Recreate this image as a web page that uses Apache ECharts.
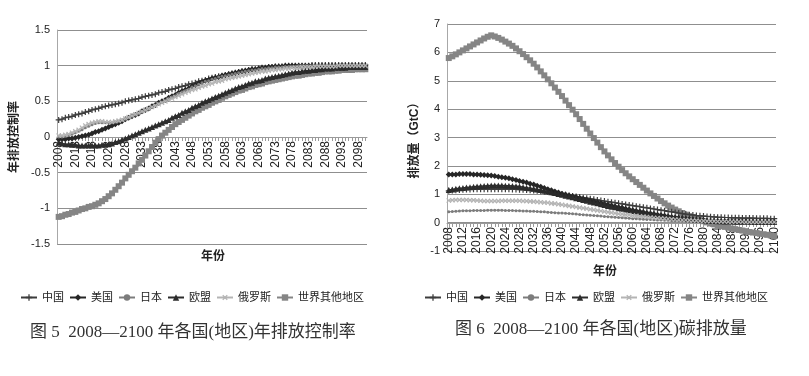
<!DOCTYPE html>
<html>
<head>
<meta charset="utf-8">
<script src="https://cdn.jsdelivr.net/npm/echarts@6/dist/echarts.min.js"></script>
<style>
  html, body { margin: 0; padding: 0; background: #fff; }
  #main { width: 809px; height: 376px; }
</style>
</head>
<body>
<div id="main"></div>
<script>
// 年份 2008-2100
const years = Array.from({ length: 93 }, (_, i) => String(2008 + i));
const names = ['中国', '美国', '日本', '欧盟', '俄罗斯', '世界其他地区'];

// 图5 年排放控制率
const rateChina = [
  0.24,0.25,0.27,0.28,0.29,0.31,0.32,0.33,0.35,0.36,
  0.38,0.39,0.40,0.42,0.43,0.44,0.45,0.46,0.47,0.48,
  0.50,0.51,0.52,0.53,0.54,0.56,0.57,0.58,0.59,0.60,
  0.62,0.63,0.64,0.66,0.67,0.68,0.70,0.71,0.72,0.74,
  0.75,0.76,0.78,0.79,0.80,0.82,0.83,0.84,0.85,0.86,
  0.87,0.88,0.89,0.90,0.91,0.92,0.93,0.94,0.95,0.95,
  0.96,0.97,0.97,0.98,0.98,0.99,0.99,0.99,1.00,1.00,
  1.00,1.00,1.00,1.00,1.00,1.00,1.01,1.01,1.01,1.01,
  1.01,1.01,1.01,1.01,1.01,1.01,1.01,1.01,1.01,1.01,
  1.01,1.01,1.01
];
const rateUSA = [
  -0.03,-0.03,-0.03,-0.02,-0.02,-0.01,0.00,0.01,0.02,0.03,
  0.05,0.07,0.08,0.10,0.12,0.14,0.16,0.18,0.20,0.22,
  0.25,0.27,0.29,0.31,0.33,0.36,0.38,0.40,0.43,0.45,
  0.48,0.50,0.52,0.55,0.57,0.59,0.62,0.64,0.66,0.68,
  0.71,0.73,0.75,0.77,0.79,0.80,0.82,0.83,0.84,0.86,
  0.87,0.88,0.89,0.90,0.91,0.92,0.93,0.94,0.95,0.95,
  0.96,0.97,0.97,0.98,0.98,0.99,0.99,0.99,1.00,1.00,
  1.00,1.00,1.00,1.00,1.00,1.00,1.00,1.00,1.00,1.00,
  1.00,1.00,1.00,1.00,1.00,1.00,1.00,1.00,1.00,1.00,
  1.00,1.00,1.00
];
const rateJapan = [
  0.00,0.00,0.01,0.02,0.04,0.06,0.08,0.10,0.13,0.15,
  0.17,0.19,0.20,0.20,0.20,0.20,0.20,0.21,0.22,0.23,
  0.25,0.27,0.29,0.31,0.33,0.35,0.37,0.39,0.42,0.44,
  0.47,0.49,0.51,0.54,0.56,0.58,0.61,0.63,0.65,0.67,
  0.70,0.72,0.74,0.76,0.78,0.79,0.81,0.82,0.84,0.85,
  0.86,0.87,0.88,0.89,0.90,0.91,0.92,0.93,0.94,0.94,
  0.95,0.96,0.96,0.97,0.97,0.98,0.98,0.98,0.99,0.99,
  0.99,0.99,1.00,1.00,1.00,1.00,1.00,1.00,1.00,1.00,
  1.00,1.00,1.00,1.00,1.00,1.00,1.00,1.00,1.00,1.00,
  1.00,1.00,1.00
];
const rateEU = [
  -0.08,-0.09,-0.10,-0.10,-0.11,-0.11,-0.12,-0.12,-0.12,-0.12,
  -0.12,-0.12,-0.12,-0.11,-0.11,-0.10,-0.09,-0.07,-0.06,-0.04,
  -0.02,0.00,0.02,0.04,0.06,0.08,0.10,0.12,0.14,0.16,
  0.18,0.20,0.22,0.24,0.27,0.29,0.31,0.34,0.36,0.38,
  0.41,0.43,0.45,0.48,0.50,0.52,0.54,0.56,0.58,0.60,
  0.62,0.64,0.66,0.68,0.70,0.71,0.73,0.75,0.76,0.78,
  0.79,0.80,0.82,0.83,0.84,0.85,0.86,0.87,0.88,0.89,
  0.90,0.91,0.91,0.92,0.93,0.93,0.94,0.94,0.95,0.95,
  0.96,0.96,0.96,0.97,0.97,0.97,0.97,0.98,0.98,0.98,
  0.98,0.98,0.98
];
const rateRussia = [
  0.02,0.02,0.03,0.04,0.06,0.08,0.10,0.13,0.16,0.18,
  0.20,0.21,0.22,0.22,0.21,0.21,0.21,0.22,0.23,0.24,
  0.26,0.28,0.30,0.32,0.34,0.36,0.38,0.40,0.42,0.44,
  0.46,0.48,0.50,0.52,0.54,0.56,0.58,0.60,0.62,0.64,
  0.66,0.67,0.69,0.71,0.72,0.74,0.75,0.77,0.78,0.79,
  0.81,0.82,0.83,0.84,0.85,0.86,0.87,0.88,0.89,0.90,
  0.91,0.92,0.92,0.93,0.94,0.94,0.95,0.95,0.96,0.96,
  0.97,0.97,0.97,0.98,0.98,0.98,0.98,0.99,0.99,0.99,
  0.99,0.99,0.99,0.99,1.00,1.00,1.00,1.00,1.00,1.00,
  1.00,1.00,1.00
];
const rateWorld = [
  -1.12,-1.11,-1.09,-1.08,-1.06,-1.05,-1.03,-1.01,-1.00,-0.98,
  -0.97,-0.95,-0.93,-0.90,-0.87,-0.83,-0.79,-0.74,-0.69,-0.64,
  -0.58,-0.53,-0.48,-0.43,-0.37,-0.32,-0.26,-0.20,-0.14,-0.08,
  -0.03,0.02,0.06,0.10,0.14,0.18,0.21,0.24,0.27,0.30,
  0.33,0.36,0.38,0.41,0.43,0.45,0.48,0.50,0.52,0.55,
  0.57,0.59,0.61,0.63,0.65,0.66,0.68,0.70,0.71,0.73,
  0.74,0.75,0.77,0.78,0.79,0.80,0.81,0.82,0.83,0.84,
  0.85,0.86,0.86,0.87,0.88,0.89,0.89,0.90,0.90,0.91,
  0.92,0.92,0.92,0.93,0.93,0.94,0.94,0.94,0.94,0.95,
  0.95,0.95,0.95
];

// 图6 碳排放量 (GtC)
const emitChina = [
  1.12,1.13,1.14,1.15,1.16,1.17,1.17,1.18,1.18,1.18,
  1.18,1.18,1.18,1.18,1.18,1.18,1.18,1.18,1.17,1.17,
  1.16,1.16,1.15,1.14,1.13,1.12,1.11,1.09,1.08,1.06,
  1.04,1.02,1.00,0.98,0.96,0.94,0.92,0.90,0.88,0.86,
  0.84,0.82,0.80,0.78,0.76,0.74,0.72,0.70,0.68,0.66,
  0.64,0.62,0.60,0.58,0.56,0.54,0.52,0.50,0.48,0.46,
  0.44,0.42,0.40,0.38,0.36,0.34,0.32,0.30,0.28,0.27,
  0.25,0.24,0.23,0.22,0.21,0.20,0.19,0.19,0.18,0.18,
  0.17,0.17,0.17,0.16,0.16,0.16,0.16,0.15,0.15,0.15,
  0.15,0.14,0.14
];
const emitUSA = [
  1.70,1.70,1.70,1.71,1.71,1.71,1.71,1.70,1.70,1.69,
  1.68,1.67,1.66,1.64,1.62,1.60,1.58,1.56,1.53,1.50,
  1.47,1.44,1.41,1.37,1.34,1.30,1.26,1.22,1.18,1.14,
  1.10,1.06,1.02,0.99,0.96,0.93,0.90,0.87,0.84,0.81,
  0.78,0.75,0.72,0.69,0.66,0.63,0.60,0.57,0.54,0.52,
  0.49,0.46,0.44,0.41,0.39,0.37,0.34,0.32,0.30,0.28,
  0.26,0.24,0.22,0.20,0.18,0.17,0.15,0.14,0.12,0.11,
  0.10,0.09,0.08,0.07,0.07,0.06,0.06,0.05,0.05,0.05,
  0.04,0.04,0.04,0.04,0.04,0.03,0.03,0.03,0.03,0.03,
  0.03,0.03,0.03
];
const emitJapan = [
  0.38,0.39,0.40,0.41,0.42,0.42,0.42,0.43,0.43,0.43,
  0.43,0.44,0.44,0.44,0.44,0.44,0.43,0.43,0.43,0.42,
  0.42,0.41,0.41,0.40,0.40,0.39,0.38,0.38,0.37,0.36,
  0.35,0.34,0.34,0.33,0.32,0.31,0.30,0.29,0.28,0.27,
  0.26,0.25,0.24,0.23,0.22,0.21,0.20,0.19,0.18,0.17,
  0.16,0.15,0.14,0.14,0.13,0.12,0.11,0.11,0.10,0.09,
  0.09,0.08,0.08,0.07,0.07,0.06,0.06,0.05,0.05,0.05,
  0.04,0.04,0.04,0.03,0.03,0.03,0.03,0.02,0.02,0.02,
  0.02,0.02,0.02,0.01,0.01,0.01,0.01,0.01,0.01,0.01,
  0.01,0.01,0.01
];
const emitEU = [
  1.15,1.17,1.19,1.21,1.22,1.24,1.25,1.26,1.27,1.28,
  1.29,1.30,1.31,1.31,1.31,1.31,1.30,1.30,1.29,1.28,
  1.27,1.25,1.23,1.21,1.19,1.17,1.15,1.12,1.10,1.07,
  1.04,1.01,0.98,0.95,0.92,0.89,0.86,0.83,0.80,0.77,
  0.74,0.71,0.68,0.65,0.62,0.59,0.56,0.54,0.51,0.49,
  0.46,0.44,0.41,0.39,0.37,0.35,0.33,0.31,0.29,0.27,
  0.25,0.23,0.21,0.19,0.18,0.16,0.15,0.13,0.12,0.11,
  0.10,0.09,0.08,0.07,0.06,0.06,0.05,0.05,0.04,0.04,
  0.04,0.03,0.03,0.03,0.03,0.03,0.02,0.02,0.02,0.02,
  0.02,0.02,0.02
];
const emitRussia = [
  0.78,0.79,0.80,0.80,0.80,0.80,0.79,0.79,0.78,0.77,
  0.76,0.76,0.76,0.76,0.76,0.77,0.77,0.77,0.77,0.77,
  0.77,0.76,0.76,0.75,0.74,0.73,0.72,0.71,0.70,0.68,
  0.67,0.65,0.63,0.61,0.59,0.57,0.55,0.53,0.51,0.49,
  0.47,0.45,0.43,0.41,0.39,0.37,0.35,0.33,0.31,0.30,
  0.28,0.27,0.25,0.24,0.22,0.21,0.20,0.18,0.17,0.16,
  0.15,0.14,0.13,0.12,0.11,0.10,0.09,0.09,0.08,0.07,
  0.07,0.06,0.06,0.05,0.05,0.05,0.04,0.04,0.04,0.03,
  0.03,0.03,0.03,0.03,0.02,0.02,0.02,0.02,0.02,0.02,
  0.02,0.02,0.02
];
const emitWorld = [
  5.80,5.86,5.93,6.00,6.07,6.14,6.21,6.28,6.35,6.42,
  6.49,6.55,6.60,6.56,6.51,6.45,6.38,6.31,6.23,6.14,
  6.04,5.94,5.83,5.72,5.60,5.47,5.33,5.19,5.05,4.91,
  4.76,4.61,4.46,4.30,4.14,3.98,3.82,3.65,3.48,3.31,
  3.14,2.98,2.82,2.66,2.51,2.37,2.23,2.10,1.97,1.85,
  1.74,1.63,1.53,1.43,1.33,1.23,1.13,1.03,0.94,0.85,
  0.76,0.68,0.60,0.53,0.46,0.40,0.34,0.28,0.23,0.18,
  0.13,0.09,0.05,0.01,-0.03,-0.06,-0.09,-0.12,-0.15,-0.18,
  -0.21,-0.23,-0.26,-0.28,-0.30,-0.33,-0.35,-0.37,-0.39,-0.41,
  -0.43,-0.45,-0.47
];

const rateData = [rateChina, rateUSA, rateJapan, rateEU, rateRussia, rateWorld];
const emitData = [emitChina, emitUSA, emitJapan, emitEU, emitRussia, emitWorld];

const plus = 'path://M4,0h2v4h4v2h-4v4h-2v-4h-4v-2h4z';
// 每个国家的线型（按 Excel 原图）
const styles = [
  { color: '#3c3c3c', symbol: plus, size: 6, width: 1, rotate: 0 },
  { color: '#262626', symbol: 'diamond', size: 6, width: 1.5, rotate: 0 },
  { color: '#7c7c7c', symbol: 'circle', size: 3, width: 1, rotate: 0 },
  { color: '#2c2c2c', symbol: 'triangle', size: 6, width: 1.5, rotate: 0 },
  { color: '#b4b4b4', symbol: plus, size: 6, width: 1, rotate: 45 },
  { color: '#858585', symbol: 'rect', size: 6, width: 2.5, rotate: 0 }
];

function makeSeries(dataList, idx) {
  return dataList.map((d, i) => ({
    name: names[i],
    type: 'line',
    xAxisIndex: idx,
    yAxisIndex: idx,
    data: d,
    symbol: styles[i].symbol,
    symbolSize: styles[i].size,
    symbolRotate: styles[i].rotate,
    showAllSymbol: true,
    lineStyle: { color: styles[i].color, width: styles[i].width },
    itemStyle: { color: styles[i].color, borderWidth: 0 },
    z: i === 5 ? 1 : 2,
    animation: false
  }));
}

const font = '"Liberation Sans", "Noto Sans CJK SC", sans-serif';
const serif = '"Liberation Serif", "DejaVu Serif", "Noto Sans CJK SC", serif';

// onZero 在这里没生效，用负的 offset 把 x 轴挪到 0 的位置
function xAxisOf(idx, labelInterval, offset) {
  return {
    type: 'category',
    gridIndex: idx,
    data: years,
    boundaryGap: true,
    offset: offset,
    axisLine: { onZero: false, lineStyle: { color: '#9a9a9a', width: 1 } },
    axisTick: { show: true, interval: 0, length: 4, alignWithLabel: true, lineStyle: { color: '#9a9a9a' } },
    axisLabel: { interval: labelInterval, rotate: 90, fontFamily: font, fontSize: 12, color: '#222', margin: 4 },
    splitLine: { show: false }
  };
}

function yAxisOf(idx, min, max, interval, name, nameGap) {
  return {
    type: 'value',
    gridIndex: idx,
    min: min,
    max: max,
    interval: interval,
    name: name,
    nameLocation: 'middle',
    nameRotate: 90,
    nameGap: nameGap,
    nameTextStyle: { fontFamily: font, fontSize: 12, fontWeight: 'bold', color: '#222' },
    axisLine: { show: true, lineStyle: { color: '#a8a8a8' } },
    axisTick: { show: false },
    axisLabel: { fontFamily: font, fontSize: 11, color: '#222', margin: 7 },
    splitLine: { lineStyle: { color: '#8f8f8f', width: 1 } }
  };
}

const chart = echarts.init(document.getElementById('main'), null, { renderer: 'canvas' });

const legendBase = {
  data: names, top: 287, itemWidth: 16, itemHeight: 8, itemGap: 5,
  textStyle: { fontFamily: font, fontSize: 11, color: '#222' }
};

// x 轴标题 "年份" 直接用文字放在图下方
function xTitle(x, y) {
  return {
    type: 'text', x: x, y: y,
    style: { text: '年份', font: 'bold 12px ' + font, fill: '#222', align: 'center', verticalAlign: 'middle' }
  };
}

chart.setOption({
  backgroundColor: '#fff',
  animation: false,
  grid: [
    { left: 57, right: 442, top: 30, bottom: 132 },
    { left: 447, right: 33, top: 24, bottom: 125 }
  ],
  legend: [
    Object.assign({}, legendBase, { left: 15 }),
    Object.assign({}, legendBase, { left: 419 })
  ],
  xAxis: [xAxisOf(0, 4, -107), xAxisOf(1, 3, -28)],
  yAxis: [
    yAxisOf(0, -1.5, 1.5, 0.5, '年排放控制率', 36),
    yAxisOf(1, -1, 7, 1, '排放量（GtC）', 26)
  ],
  series: makeSeries(rateData, 0).concat(makeSeries(emitData, 1)),
  graphic: [
    xTitle(213, 257),
    xTitle(605, 272),
    {
      type: 'text', left: 30, top: 324,
      style: { text: '图 5  2008—2100 年各国(地区)年排放控制率', font: '17px ' + serif, fill: '#333' }
    },
    {
      type: 'text', left: 455, top: 321,
      style: { text: '图 6  2008—2100 年各国(地区)碳排放量', font: '17px ' + serif, fill: '#333' }
    }
  ]
});
</script>
</body>
</html>
